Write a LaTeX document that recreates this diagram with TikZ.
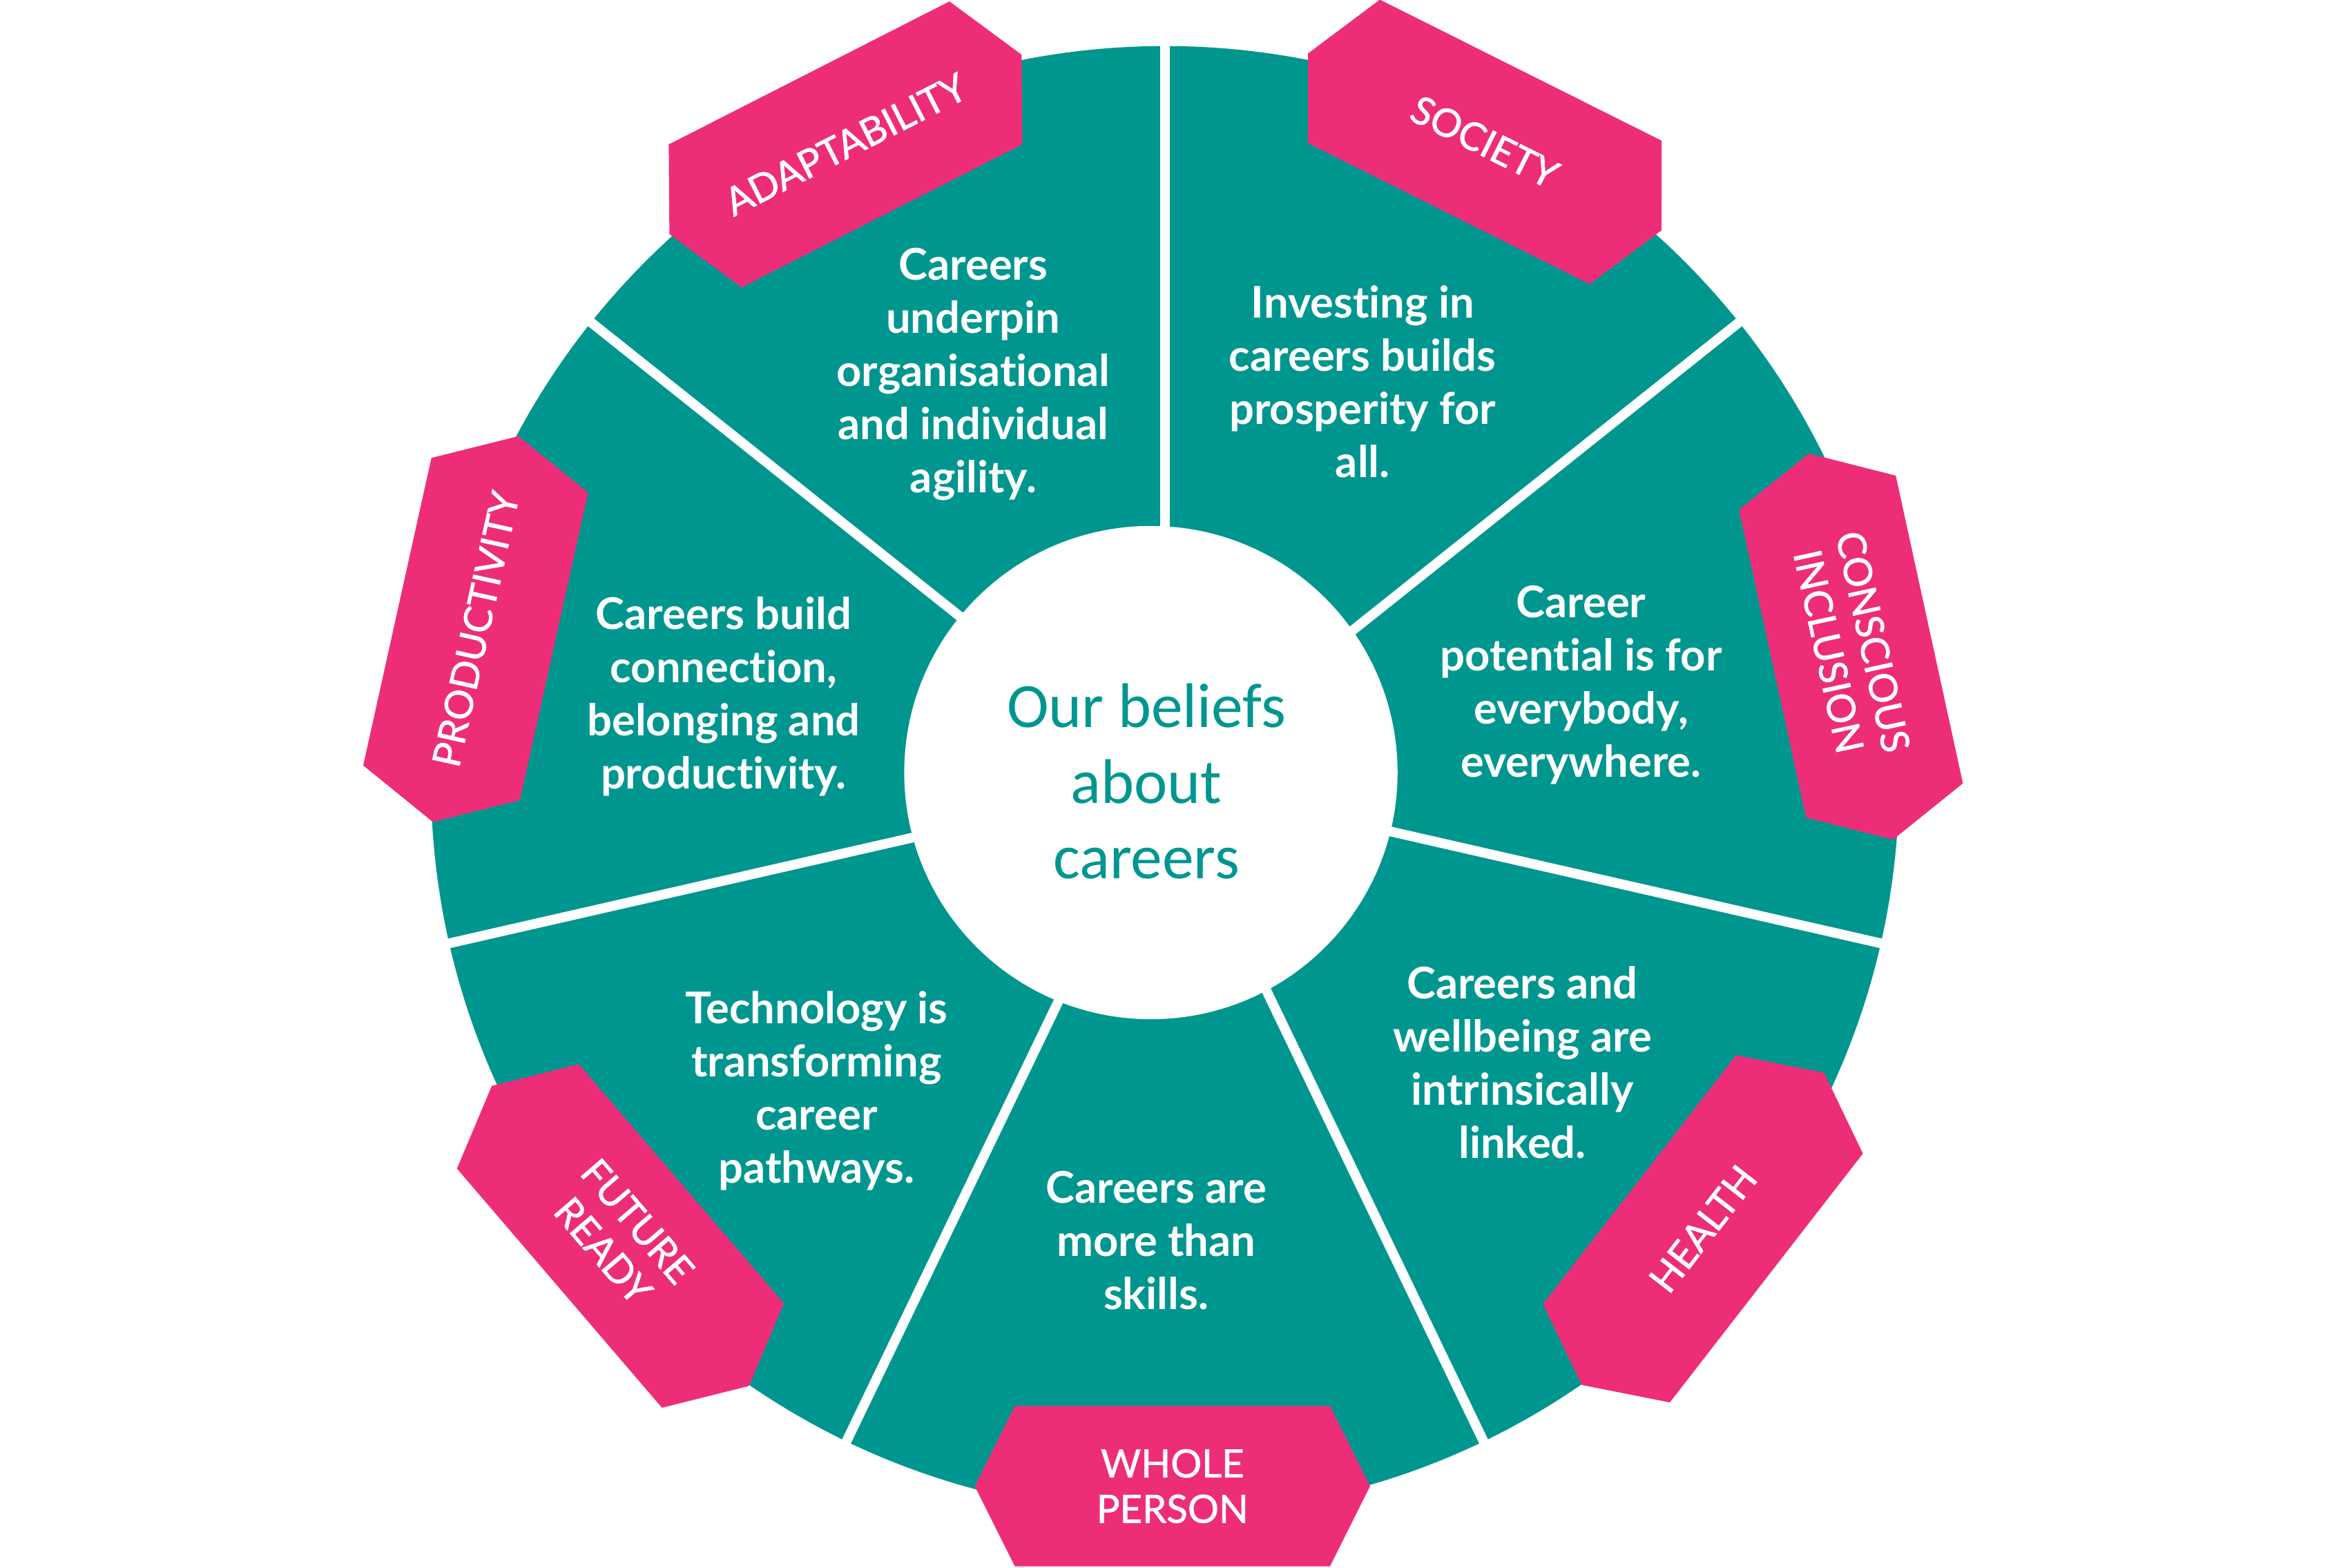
\documentclass[tikz,border=0pt]{standalone}
\usepackage{fontspec}
\setmainfont{Lato}[Ligatures=NoCommon]
\newfontfamily\carlito{Carlito}
\newfontfamily\badgefont{Lato}[Ligatures=NoCommon, FakeBold=1.2]
\definecolor{wheelteal}{RGB}{0,150,144}
\definecolor{badgepink}{RGB}{238,45,121}
\tikzset{
  divider/.style={draw=white, line width=4pt},
  segtext/.style={text=white, font=\fontsize{18}{21.9}\selectfont\bfseries, align=center, inner sep=0pt},
  centertext/.style={text=wheelteal, font=\carlito\fontsize{26}{31.2}\selectfont, align=center, inner sep=0pt},
  badgetext/.style={text=white, font=\badgefont\fontsize{16}{18.7}\selectfont, align=center, inner sep=0pt},
  badgefill/.style={fill=badgepink}
}
\newcommand{\mybadge}[5]{%
  \begin{scope}[shift={(#2,#3)}, rotate=#4]
    \path[badgefill] (-133,0) -- (-106,-54) -- (106,-54) -- (133,0) -- (106,54) -- (-106,54) -- cycle;
  \end{scope}
  \node[badgetext, rotate=#4] (#1) at (#2,#3) {#5};
}
\begin{document}
\begin{tikzpicture}[x=0.021518cm, y=-0.021518cm]
\useasboundingbox (0,0) rectangle (1568,1055);
\clip (0,0) rectangle (1568,1055);
\fill[white] (0,0) rectangle (1568,1055);
\coordinate (ctr) at (784,525);
\fill[wheelteal] (ctr) circle[radius=494];
\foreach \k in {0,...,6}
  \draw[divider] (ctr) -- ++({520*cos(90-\k*360/7)},{-520*sin(90-\k*360/7)});
\fill[white] (774.5,520) circle[radius=166];
\node[centertext] (title) at (771.5,526) {Our beliefs\\about\\careers};
\node[segtext] (s1) at (655,252) {Careers\\underpin\\organisational\\and individual\\agility.};
\node[segtext] (s2) at (917,257) {Investing in\\careers builds\\prosperity for\\all.};
\node[segtext] (s3) at (1064,461) {Career\\potential is for\\everybody,\\everywhere.};
\node[segtext] (s4) at (1024.5,715) {Careers and\\wellbeing are\\intrinsically\\linked.};
\node[segtext] (s5) at (778,835) {Careers are\\more than\\skills.};
\node[segtext] (s6) at (549.5,734) {Technology is\\transforming\\career\\pathways.};
\node[segtext] (s7) at (487,469) {Careers build\\connection,\\belonging and\\productivity.};
\mybadge{adapt}{569}{97.2}{27}{ADAPTABILITY}
\mybadge{society}{999.2}{95.5}{-26.6}{SOCIETY}
\mybadge{conscious}{1245.6}{435.2}{-77.7}{CONSCIOUS\\INCLUSION}
\mybadge{health}{1146}{827.1}{52.2}{HEALTH}
\mybadge{whole}{789}{1000.3}{0}{WHOLE\\PERSON}
\mybadge{future}{417.5}{831.9}{-49.4}{FUTURE\\READY}
\mybadge{productivity}{320.1}{423.4}{77.5}{PRODUCTIVITY}
\end{tikzpicture}
\end{document}
